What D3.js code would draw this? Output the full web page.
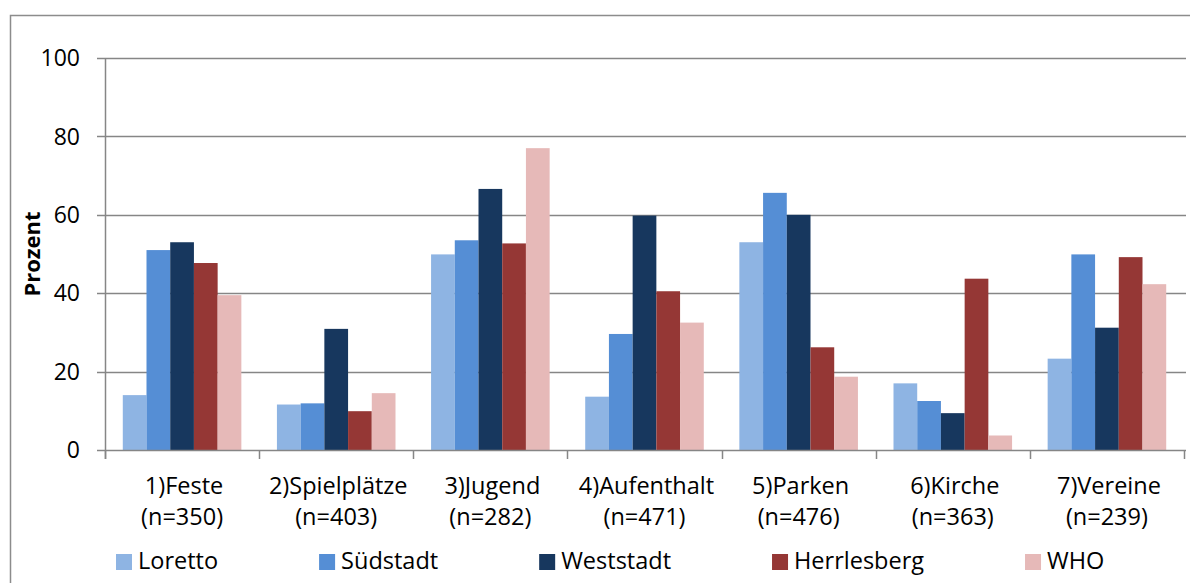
<!DOCTYPE html>
<html>
<head>
<meta charset="utf-8">
<script src="https://cdn.jsdelivr.net/npm/d3@7"></script>
<style>
  body { margin: 0; background: #fff; }
  svg { display: block; font-family: "Open Sans", sans-serif; }
</style>
</head>
<body>
<svg id="chart" width="1190" height="583"></svg>
<script>
// categories (two lines each) and series
const categories = ["1)Feste", "2)Spielplätze", "3)Jugend", "4)Aufenthalt", "5)Parken", "6)Kirche", "7)Vereine"];
const sampleSizes = ["(n=350)", "(n=403)", "(n=282)", "(n=471)", "(n=476)", "(n=363)", "(n=239)"];
const seriesNames = ["Loretto", "Südstadt", "Weststadt", "Herrlesberg", "WHO"];
const seriesColors = ["#8eb4e3", "#558ed5", "#17375e", "#953735", "#e6b9b8"];

const loretto     = [14.0, 11.6, 49.9, 13.6, 53.0, 17.0, 23.3];
const suedstadt   = [51.0, 11.9, 53.5, 29.6, 65.6, 12.5, 49.9];
const weststadt   = [53.0, 30.9, 66.6, 59.8, 60.0,  9.4, 31.2];
const herrlesberg = [47.7,  9.9, 52.7, 40.5, 26.2, 43.7, 49.2];
const who         = [39.5, 14.5, 77.0, 32.5, 18.7,  3.7, 42.3];
const seriesValues = [loretto, suedstadt, weststadt, herrlesberg, who];

const yTicks = [0, 20, 40, 60, 80, 100];

const svg = d3.select("#chart");
const plotLeft = 105, plotRight = 1184, plotTop = 58, plotBottom = 450;
const gridColor = "#868686";
const fontSize = 23.5;

// outer frame of the chart object
svg.append("rect")
  .attr("x", 10.5).attr("y", 15.5)
  .attr("width", 1200).attr("height", 600)
  .attr("fill", "none").attr("stroke", "#8c8c8c").attr("stroke-width", 1.5);

const x0 = d3.scaleBand().domain(d3.range(categories.length)).range([plotLeft, plotRight]);
const bw = x0.bandwidth() / 6.5; // gap width 150%
const x1 = d3.scaleBand().domain(d3.range(seriesNames.length))
  .range([bw * 0.75, x0.bandwidth() - bw * 0.75]);
const y = d3.scaleLinear().domain([0, 100]).range([plotBottom, plotTop]);

// horizontal grid lines with short ticks to the left
svg.append("g").selectAll("line")
  .data(yTicks.filter(d => d > 0))
  .join("line")
  .attr("x1", plotLeft - 8).attr("x2", plotRight + 2)
  .attr("y1", d => Math.round(y(d)) + 0.5).attr("y2", d => Math.round(y(d)) + 0.5)
  .attr("stroke", gridColor).attr("stroke-width", 1.5);

// y tick labels
svg.append("g").selectAll("text")
  .data(yTicks)
  .join("text")
  .attr("x", 80).attr("y", d => y(d))
  .attr("dy", "0.36em")
  .attr("text-anchor", "end")
  .attr("font-size", 23)
  .attr("fill", "#000")
  .text(d => d);

// bars
const groups = svg.append("g").selectAll("g")
  .data(categories)
  .join("g")
  .attr("transform", (d, i) => `translate(${x0(i)},0)`);

groups.selectAll("rect")
  .data((d, i) => seriesValues.map((s, j) => ({ j: j, v: s[i] })))
  .join("rect")
  .attr("x", d => x1(d.j))
  .attr("width", x1.bandwidth())
  .attr("y", d => y(d.v))
  .attr("height", d => y(0) - y(d.v))
  .attr("fill", d => seriesColors[d.j]);

// axes lines
svg.append("line")
  .attr("x1", plotLeft + 0.5).attr("x2", plotLeft + 0.5)
  .attr("y1", plotTop).attr("y2", plotBottom + 9)
  .attr("stroke", gridColor).attr("stroke-width", 1.5);
svg.append("line")
  .attr("x1", plotLeft - 8).attr("x2", plotRight + 2)
  .attr("y1", plotBottom + 0.5).attr("y2", plotBottom + 0.5)
  .attr("stroke", gridColor).attr("stroke-width", 1.5);

// category boundary ticks
svg.append("g").selectAll("line")
  .data(d3.range(categories.length + 1))
  .join("line")
  .attr("x1", i => Math.round(plotLeft + i * x0.bandwidth()) + 0.5)
  .attr("x2", i => Math.round(plotLeft + i * x0.bandwidth()) + 0.5)
  .attr("y1", plotBottom).attr("y2", plotBottom + 9)
  .attr("stroke", gridColor).attr("stroke-width", 1.5);

// category labels, two lines
const catLabels = svg.append("g").selectAll("text")
  .data(categories)
  .join("text")
  .attr("text-anchor", "middle")
  .attr("font-size", fontSize)
  .attr("fill", "#000");
catLabels.append("tspan")
  .attr("x", (d, i) => x0(i) + x0.bandwidth() / 2 + 2)
  .attr("y", 494)
  .text(d => d);
catLabels.append("tspan")
  .attr("x", (d, i) => x0(i) + x0.bandwidth() / 2)
  .attr("y", 525)
  .text((d, i) => sampleSizes[i]);

// y axis title
svg.append("text")
  .attr("transform", "translate(40,254) rotate(-90)")
  .attr("text-anchor", "middle")
  .attr("font-size", 22)
  .attr("font-weight", "bold")
  .text("Prozent");

// legend laid out left to right by text width
const legend = svg.append("g");
let lx = 116;
seriesNames.forEach((name, j) => {
  legend.append("rect")
    .attr("x", lx).attr("y", 554)
    .attr("width", 16).attr("height", 16)
    .attr("fill", seriesColors[j]);
  const t = legend.append("text")
    .attr("x", lx + 22).attr("y", 569)
    .attr("font-size", fontSize)
    .attr("fill", "#000")
    .text(name);
  lx += 22 + t.node().getComputedTextLength() + 101;
});
</script>
</body>
</html>
